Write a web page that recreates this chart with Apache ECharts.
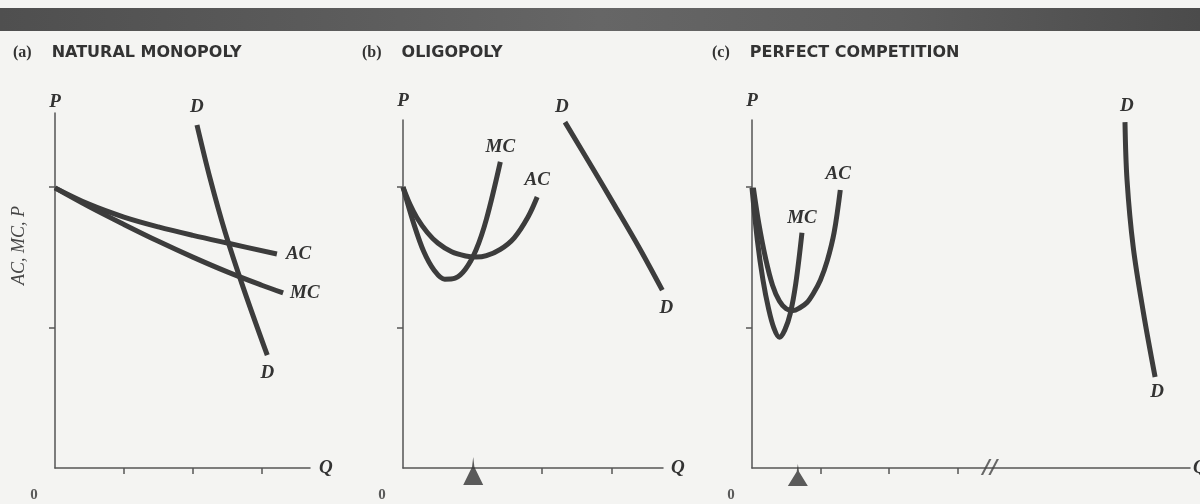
<!DOCTYPE html>
<html>
<head>
<meta charset="utf-8">
<script src="https://cdn.jsdelivr.net/npm/echarts@6/dist/echarts.min.js"></script>
<style>html,body{margin:0;padding:0;background:#f4f4f2;}#c{width:1200px;height:504px;}</style>
</head>
<body>
<div id="c"></div>
<script>
// ---------- data ----------
const panelTitles = ['NATURAL MONOPOLY', 'OLIGOPOLY', 'PERFECT COMPETITION'];
const panelLetters = ['(a)', '(b)', '(c)'];
const yTickValues = [4, 8];
const xTickValuesA = [1, 2, 3];
const xTickValuesB = [2, 3];
const xTickValuesC = [1, 2, 3];

// (a) natural monopoly
const acA = [[0, 7.97], [0.5, 7.50], [1.0, 7.14], [1.5, 6.86], [2.0, 6.62], [2.5, 6.40], [3.22, 6.09]];
const mcA = [[0, 7.97], [0.5, 7.43], [1.0, 6.93], [1.5, 6.45], [2.0, 6.00], [2.5, 5.58], [3.0, 5.20], [3.31, 4.98]];
const dA  = [[2.06, 9.76], [2.25, 8.24], [2.47, 6.70], [2.73, 5.14], [3.08, 3.21]];

// (b) oligopoly
const acB = [[0, 7.99], [0.1, 7.50], [0.2, 7.12], [0.35, 6.70], [0.5, 6.40], [0.7, 6.15], [0.9, 6.03], [1.05, 6.00], [1.2, 6.04], [1.4, 6.22], [1.6, 6.55], [1.8, 7.15], [1.93, 7.71]];
const mcB = [[0, 7.99], [0.15, 6.98], [0.30, 6.15], [0.45, 5.62], [0.60, 5.37], [0.75, 5.40], [0.90, 5.66], [1.05, 6.20], [1.20, 7.08], [1.40, 8.71]];
const dB  = [[2.33, 9.84], [2.70, 8.62], [3.05, 7.45], [3.40, 6.26], [3.73, 5.06]];
const markQB = 1.01;

// (c) perfect competition
const acC = [[0.02, 7.97], [0.1, 6.95], [0.2, 5.95], [0.3, 5.20], [0.4, 4.75], [0.5, 4.53], [0.6, 4.48], [0.7, 4.56], [0.8, 4.70], [0.9, 4.98], [1.0, 5.35], [1.1, 5.90], [1.2, 6.70], [1.29, 7.91]];
const mcC = [[0, 7.97], [0.08, 6.45], [0.16, 5.35], [0.24, 4.55], [0.32, 3.98], [0.40, 3.72], [0.48, 3.93], [0.56, 4.40], [0.64, 5.25], [0.73, 6.69]];
const dC  = [[5.45, 9.84], [5.48, 8.19], [5.57, 6.29], [5.72, 4.41], [5.89, 2.59]];
const markQC = 0.67;
const breakC = 3.48;

// ---------- styles ----------
const INK = '#3c3c3c';
const AXIS = '#555';
const serifLabel = {fontFamily: 'Liberation Serif', fontStyle: 'italic', fontWeight: 'bold', fontSize: 19, color: '#333'};

function labeled(data, first, last) {
  return data.map((p, i) => {
    const item = {value: p};
    let l = null;
    if (i === 0 && first) l = first;
    if (i === data.length - 1 && last) l = last;
    if (l) item.label = Object.assign({show: true, formatter: l.text, position: l.pos, distance: l.dist || 8, offset: l.off || [0, 0]}, serifLabel);
    return item;
  });
}
function curve(g, data, first, last) {
  return {
    type: 'line', xAxisIndex: g, yAxisIndex: g, data: labeled(data, first, last),
    smooth: 0.35, showSymbol: true, showAllSymbol: true, symbolSize: 0, clip: false,
    lineStyle: {color: INK, width: 5}, itemStyle: {color: INK}, label: {show: false},
    emphasis: {disabled: true}, silent: true, z: 3
  };
}
function xAx(g, max, ticks, gap) {
  return {
    type: 'value', gridIndex: g, min: 0, max: max,
    axisLine: {show: true, onZero: false, lineStyle: {color: AXIS, width: 1.5}},
    axisTick: {show: true, customValues: ticks, length: 6, lineStyle: {color: AXIS, width: 1.5}},
    axisLabel: {show: false}, splitLine: {show: false},
    name: 'Q', nameLocation: 'end', nameGap: gap,
    nameTextStyle: Object.assign({}, serifLabel, {verticalAlign: 'middle'})
  };
}
function yAx(g, max, gap) {
  return {
    type: 'value', gridIndex: g, min: 0, max: max, position: 'left',
    axisLine: {show: true, onZero: false, lineStyle: {color: AXIS, width: 1.5}},
    axisTick: {show: true, customValues: yTickValues, length: 6, lineStyle: {color: AXIS, width: 1.5}},
    axisLabel: {show: false}, splitLine: {show: false},
    name: 'P', nameLocation: 'end', nameGap: gap, nameTextStyle: serifLabel
  };
}
function origin(g) {
  return {type: 'scatter', xAxisIndex: g, yAxisIndex: g, data: [[0, 0]], symbolSize: 0, clip: false, silent: true,
    label: {show: true, formatter: '0', position: 'inside', offset: [-21, 27], fontFamily: 'Liberation Serif', fontWeight: 'bold', fontSize: 15, color: '#333'}};
}
function marker(g, x, size, off) {
  return {type: 'scatter', xAxisIndex: g, yAxisIndex: g, data: [[x, 0]], clip: false, silent: true, z: 5,
    symbol: 'path://M10,0 L11.2,10 L20,28 L0,28 L8.8,10 Z', symbolSize: size, symbolOffset: off,
    itemStyle: {color: '#333'}};
}

const titleRich = {
  l: {fontFamily: 'Liberation Serif', fontSize: 16, color: '#333', padding: [0, 20, 0, 0]},
  t: {fontFamily: 'DejaVu Sans', fontWeight: 'bold', fontSize: 16, color: '#333'}
};
const titleLefts = [8, 357, 707];

const chart = echarts.init(document.getElementById('c'), null, {renderer: 'canvas'});
chart.setOption({
  backgroundColor: '#f4f4f2',
  animation: false,
  graphic: [{
    type: 'rect', shape: {x: 0, y: 8, width: 1200, height: 23}, silent: true,
    style: {fill: new echarts.graphic.LinearGradient(0, 0, 1, 0, [
      {offset: 0, color: '#4f4f4f'}, {offset: 0.25, color: '#5a5a5a'}, {offset: 0.5, color: '#666'},
      {offset: 0.75, color: '#5d5d5d'}, {offset: 1, color: '#4b4b4b'}])}
  }],
  title: panelTitles.map((t, i) => ({
    text: '{l|' + panelLetters[i] + '}{t|' + t + '}', left: titleLefts[i], top: 40,
    textStyle: {rich: titleRich}
  })),
  grid: [
    {left: 55, top: 113, width: 255, height: 355, outerBoundsMode: 'none'},
    {left: 403, top: 120, width: 260, height: 348, outerBoundsMode: 'none'},
    {left: 752, top: 120, width: 438, height: 348, outerBoundsMode: 'none'}
  ],
  xAxis: [xAx(0, 3.7, xTickValuesA, 9), xAx(1, 3.74, xTickValuesB, 8), xAx(2, 6.40, xTickValuesC, 3)],
  yAxis: [yAx(0, 10.1, 1), yAx(1, 9.9, 9), yAx(2, 9.9, 9),
    {type: 'value', gridIndex: 0, min: 0, max: 10.1, position: 'left', offset: 0,
     axisLine: {show: false}, axisTick: {show: false},
     axisLabel: {show: false}, splitLine: {show: false},
     name: 'AC, MC, P', nameLocation: 'middle', nameRotate: 90, nameGap: 27,
     nameTextStyle: {fontFamily: 'Liberation Serif', fontStyle: 'italic', fontSize: 18, color: '#444', padding: [0, 0, 0, 90]}}],
  series: [
    curve(0, acA, null, {text: 'AC', pos: 'right', dist: 9}),
    curve(0, mcA, null, {text: 'MC', pos: 'right', dist: 7}),
    curve(0, dA, {text: 'D', pos: 'top', dist: 8}, {text: 'D', pos: 'bottom', dist: 8}),
    origin(0),

    curve(1, acB, null, {text: 'AC', pos: 'top', dist: 7}),
    curve(1, mcB, null, {text: 'MC', pos: 'top', dist: 5}),
    curve(1, dB, {text: 'D', pos: 'top', dist: 6, off: [-3, 0]}, {text: 'D', pos: 'bottom', dist: 8, off: [4, 0]}),
    origin(1),
    marker(1, markQB, [20, 28], [0, 3]),

    curve(2, acC, null, {text: 'AC', pos: 'top', dist: 6, off: [-2, 0]}),
    curve(2, mcC, null, {text: 'MC', pos: 'top', dist: 5}),
    curve(2, dC, {text: 'D', pos: 'top', dist: 7, off: [2, 0]}, {text: 'D', pos: 'bottom', dist: 6, off: [2, 0]}),
    origin(2),
    marker(2, markQC, [20, 22], [0, 7]),
    {type: 'scatter', xAxisIndex: 2, yAxisIndex: 2, data: [[breakC, 0]], symbolSize: 0, clip: false, silent: true,
     label: {show: true, formatter: '//', position: 'inside', fontFamily: 'DejaVu Sans', fontStyle: 'italic', fontWeight: 'bold', fontSize: 20, color: '#444'}}
  ]
});
</script>
</body>
</html>
